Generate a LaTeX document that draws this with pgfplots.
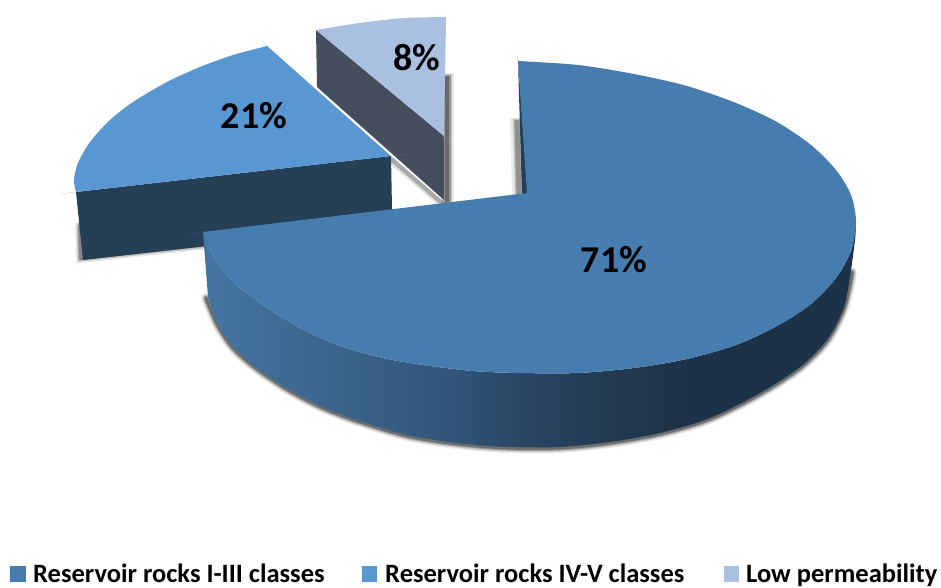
\documentclass[border=0pt]{standalone}
\usepackage{pgfplots}
\pgfplotsset{compat=1.18}
\usepackage{fontspec}
\setmainfont{Carlito}
\definecolor{big}{HTML}{477CAE}
\definecolor{mid}{HTML}{5897D1}
\definecolor{low}{HTML}{AAC0E1}
\definecolor{midside}{HTML}{243F56}
\definecolor{lowside}{HTML}{444E5C}
\definecolor{wallA}{HTML}{4475A3}
\definecolor{wallB}{HTML}{3A6389}
\definecolor{wallC}{HTML}{31557A}
\definecolor{wallD}{HTML}{294562}
\definecolor{wallE}{HTML}{22394F}
\definecolor{wallF}{HTML}{1C3248}
\pgfdeclarehorizontalshading{wall}{100bp}{
 color(0bp)=(wallA);color(25bp)=(wallA);color(36bp)=(wallB);color(44bp)=(wallC);
 color(50bp)=(wallD);color(57bp)=(wallE);color(62bp)=(wallF);color(100bp)=(wallF)}
\newcommand{\lab}{\fontsize{37.9}{40}\selectfont\bfseries}
\newcommand{\leg}{\fontsize{26.5}{28}\selectfont\bfseries}
\begin{document}
\begin{tikzpicture}
\begin{axis}[scale only axis,width=941pt,height=588pt,xmin=0,xmax=941,ymin=0,ymax=588,y dir=reverse,axis lines=none,clip=false]
\addplot[draw=none] coordinates {(0,0)(941,588)};
% shadow of the 8% slice
\addplot[draw=black,opacity=.08,line width=13pt] coordinates {(447,73)(447,204)};
\addplot[draw=black,opacity=.15,line width=10pt] coordinates {(447,74)(447,204)};
\addplot[draw=black,opacity=.25,line width=7pt] coordinates {(447,75)(447,203)};
\addplot[draw=black,opacity=.3,line width=4pt] coordinates {(447,76)(447,202)};
\addplot[draw=black,opacity=.12,line width=7pt,line cap=round] coordinates {(392,161)(442,204)};
\addplot[draw=black,opacity=.25,line width=4pt,line cap=round] coordinates {(392,160)(442,203)};
% 8% slice
\addplot[fill=lowside,draw=none] coordinates {(316,30)(444,136)(444,200)(317,87)} --cycle;
\addplot[fill=low,draw=none,smooth] coordinates {(316,30)(316,30)(316,30)(320,29.4)(340,26)(367,22)(405,18)(446,17)(446,17)(446,17)(446,21)(444,132)(444,136)(444,136)(444,136)(441,133.5)(319,32.5)(316,30)(316,30)};
% shadow of the 21% slice
\addplot[draw=black,opacity=.08,line width=10pt,line cap=round] coordinates {(80,226)(81,258)(210,244)};
\addplot[draw=black,opacity=.18,line width=7pt,line cap=round] coordinates {(80,226)(81,258)(210,244)};
\addplot[draw=black,opacity=.3,line width=4pt,line cap=round] coordinates {(80,226)(81,258)(210,244)};
% 21% slice
\addplot[fill=midside,draw=none] coordinates {(76,192)(391,156)(392,209)(392,225)(83,260)} --cycle;
\addplot[fill=mid,draw=none,smooth] coordinates {(267,46)(267,46)(267,46)(264,46.8)(233,55)(200,67)(167,82)(133,102)(110,120)(90,142)(78,163)(74,180)(76,192)(76,192)(76,192)(80,191.5)(387,156.5)(391,156)(391,156)(391,156)(388,153.4)(270,48.6)(267,46)(267,46)};
% shadow and edge of the 71% slice at the cut
\addplot[draw=black,opacity=.08,line width=12pt] coordinates {(516,118)(518,198)};
\addplot[draw=black,opacity=.18,line width=8pt] coordinates {(517,119)(519,198)};
\addplot[draw=black,opacity=.25,line width=5pt] coordinates {(517,120)(519,198)};
\addplot[fill=midside,draw=none] coordinates {(518,61)(522,195)(528,194)} --cycle;
% shadow of the 71% slice
\addplot[draw=black,opacity=.08,line width=10pt,smooth,line cap=round] coordinates {(206,298)(217,324)(233,348)(257,369)(290,391)(323,408)(357,421)(407,436)(457,444)(507,448)(560,448)(610,443)(660,434)(710,419)(760,394)(800,368)(827,341)(843,311)(850,285)(852,272)};
\addplot[draw=black,opacity=.14,line width=7.5pt,smooth,line cap=round] coordinates {(206,298)(217,324)(233,348)(257,369)(290,391)(323,408)(357,421)(407,436)(457,444)(507,448)(560,448)(610,443)(660,434)(710,419)(760,394)(800,368)(827,341)(843,311)(850,285)(852,272)};
\addplot[draw=black,opacity=.22,line width=5pt,smooth,line cap=round] coordinates {(206,298)(217,324)(233,348)(257,369)(290,391)(323,408)(357,421)(407,436)(457,444)(507,448)(560,448)(610,443)(660,434)(710,419)(760,394)(800,368)(827,341)(843,311)(850,285)(852,272)};
\addplot[draw=black,opacity=.3,line width=3pt,smooth,line cap=round] coordinates {(206,298)(217,324)(233,348)(257,369)(290,391)(323,408)(357,421)(407,436)(457,444)(507,448)(560,448)(610,443)(660,434)(710,419)(760,394)(800,368)(827,341)(843,311)(850,285)(852,272)};
% 71% slice: wall
\addplot[draw=none,shading=wall,smooth] coordinates {(203,232)(203,232)(203,232)(203.3,236)(207.7,293)(208,297)(208,297)(208,297)(209,300)(217,323)(233,347)(257,368)(290,390)(323,407)(357,420)(407,435)(457,443)(507,447)(560,447)(610,442)(660,433)(710,418)(760,393)(800,367)(827,340)(843,310)(849,283)(855,240)(856,222)(856,222)(856,222)(855.5,226)(851,251)(836,278)(811,304)(777,326)(736,345)(687,359)(634,368)(578,373)(519,373)(473,371)(423,365)(383,358)(340,346)(300,328)(267,308)(240,288)(223,270)(210,250)(203,232)(203,232)};
% 71% slice: top
\addplot[fill=big,draw=none,smooth] coordinates {(518,61)(518,61)(518,61)(522,61.2)(578,65)(634,74)(687,86)(736,103)(777,122)(811,145)(836,170)(851,195)(856,222)(851,251)(836,278)(811,304)(777,326)(736,345)(687,359)(634,368)(578,373)(519,373)(473,371)(423,365)(383,358)(340,346)(300,328)(267,308)(240,288)(223,270)(210,250)(203,232)(203,232)(203,232)(207,231.5)(523,193.5)(527,193)(527,193)(527,193)(526.7,189)(518.3,65)(518,61)(518,61)};
% legend keys
\addplot[fill=big,draw=none] coordinates {(10,566)(26,566)(26,582)(10,582)} --cycle;
\addplot[fill=mid,draw=none] coordinates {(362,566)(377,566)(377,582)(362,582)} --cycle;
\addplot[fill=low,draw=none] coordinates {(724,566)(739,566)(739,582)(724,582)} --cycle;
\node[inner sep=0pt] at (axis cs:614,260) {\lab 71\%};
\node[inner sep=0pt] at (axis cs:254,116) {\lab 21\%};
\node[inner sep=0pt] at (axis cs:417,58) {\lab 8\%};
\node[inner sep=0pt,anchor=base west] at (axis cs:33,582) {\leg Reservoir rocks I-III classes};
\node[inner sep=0pt,anchor=base west] at (axis cs:385,582) {\leg Reservoir rocks IV-V classes};
\node[inner sep=0pt,anchor=base west] at (axis cs:746,582) {\leg Low permeability};
\end{axis}
\end{tikzpicture}
\end{document}
